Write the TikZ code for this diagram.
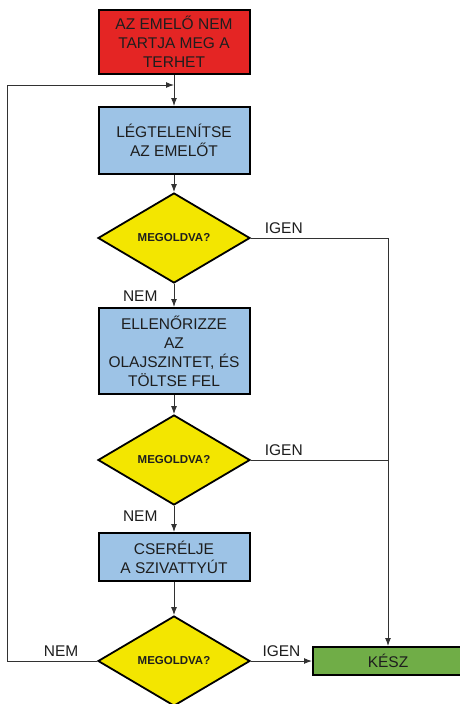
\documentclass[tikz,border=0pt]{standalone}
\usepackage{fontspec}
\setmainfont{Liberation Sans}
\usepackage{tikz}
\usetikzlibrary{shapes.geometric,arrows.meta,positioning}
\definecolor{stopred}{RGB}{228,37,36}
\definecolor{stepblue}{RGB}{157,195,230}
\definecolor{askyellow}{RGB}{243,230,0}
\definecolor{donegreen}{RGB}{112,173,71}
\definecolor{inkgray}{RGB}{30,30,30}
\definecolor{wiregray}{RGB}{50,50,50}

\tikzset{
  stepbox/.style={draw=black, line width=2pt, rectangle, minimum width=151pt,
    inner sep=2pt, align=center, text=inkgray,
    font=\fontsize{15.5}{19}\selectfont},
  askbox/.style={draw=black, line width=1.8pt, diamond, fill=askyellow,
    minimum width=152pt, minimum height=90pt, inner sep=0pt,
    font=\fontsize{11.5}{14}\selectfont\bfseries, text=inkgray},
  conn/.style={draw=wiregray, line width=1pt},
  flow/.style={conn, -{Latex[length=8pt,width=6pt]}},
  lbl/.style={text=inkgray, font=\fontsize{15.5}{19}\selectfont, inner sep=4pt}
}

\begin{document}
\begin{tikzpicture}[x=1pt,y=-1pt]
\useasboundingbox (0,0) rectangle (460,704);

% Boxes
\node[stepbox, fill=stopred, minimum height=64pt] (start) at (174,42)
  {AZ EMELŐ NEM\\TARTJA MEG A\\TERHET};
\node[stepbox, fill=stepblue, minimum height=67pt] (bleed) at (174,140.5)
  {LÉGTELENÍTSE\\AZ EMELŐT};
\node[askbox] (q1) at (174,238) {MEGOLDVA?};
\node[stepbox, fill=stepblue, minimum height=86pt] (oil) at (174,351)
  {ELLENŐRIZZE\\AZ\\OLAJSZINTET, ÉS\\TÖLTSE FEL};
\node[askbox] (q2) at (174,460) {MEGOLDVA?};
\node[stepbox, fill=stepblue, minimum height=48pt] (pump) at (174,557)
  {CSERÉLJE\\A SZIVATTYÚT};
\node[askbox] (q3) at (174,661) {MEGOLDVA?};
\node[stepbox, fill=donegreen, minimum width=150pt, minimum height=28pt] (done) at (388,661)
  {KÉSZ};

% Loop points
\coordinate (fb) at (174,85);
\coordinate (back) at (7,661);

% Main flow
\draw[flow] (start) -- (bleed);
\draw[flow] (bleed) -- (q1);
\draw[flow] (q1) -- node[lbl, left=12pt, pos=0.55] {NEM} (oil);
\draw[flow] (oil) -- (q2);
\draw[flow] (q2) -- node[lbl, left=12pt, pos=0.4] {NEM} (pump);
\draw[flow] (pump) -- (q3);

% IGEN branches
\draw[conn] (q1.east) -- node[lbl, above, pos=0.24] {IGEN} (q1.east -| done);
\draw[flow] (q1.east -| done) -- (done);
\draw[conn] (q2.east) -- node[lbl, above, pos=0.24] {IGEN} (q2.east -| done);
\draw[flow] (q3.east) -- node[lbl, above] {IGEN} (done);

% NEM back to the start
\draw[flow] (q3.west) -- node[lbl, above, pos=0.4] {NEM} (back) |- (fb);
\end{tikzpicture}
\end{document}
